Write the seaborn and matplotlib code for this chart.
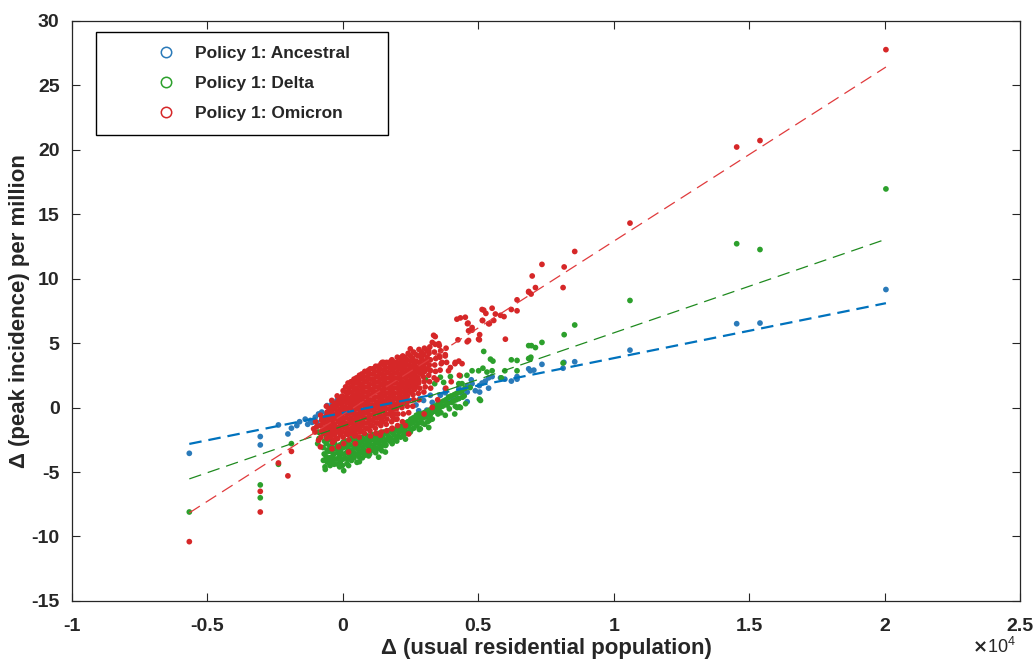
import matplotlib
matplotlib.use("Agg")
import matplotlib.pyplot as plt
import seaborn as sns
import pandas as pd
from matplotlib.lines import Line2D
from matplotlib.ticker import FuncFormatter, MultipleLocator

# Series names and colours (MATLAB-ish palette)
variants = ["Policy 1: Ancestral", "Policy 1: Delta", "Policy 1: Omicron"]
point_colors = ["#2a7ab9", "#2ca02c", "#d62728"]
line_colors = ["#0072bd", "#1f8a1f", "#e03a3c"]

# (delta usual residential population [x1e4], delta peak incidence per million)
ancestral = [
    (-0.567, -3.55), (-0.305, -2.25), (-0.305, -2.9), (-0.238, -1.35), (-0.203, -2.05), (-0.19, -1.6),
    (-0.16, -1.1), (-0.17, -1.4), (-0.139, -0.9), (-0.13, -1.3), (-0.12, -1.0), (-0.114, -1.15),
    (-0.102, -0.75), (-0.096, -1.15), (-0.09, -0.5), (-0.078, -0.35), (-0.078, -0.9), (-0.071, -0.9),
    (-0.06, -0.5), (-0.058, 0.15), (-0.05, -0.2), (-0.04, 0.3), (-0.022, 0.55), (-0.01, 0.65),
    (0.0, -0.3), (0.03, 0.1), (0.06, -0.1), (0.09, 0.2), (0.12, 0.1), (0.15, 0.4), (0.18, 0.3),
    (0.21, 0.6), (0.24, 0.5), (0.27, 0.2), (0.169, -2.3), (0.243, 1.45), (0.28, -0.25), (0.298, 0.55),
    (0.31, -0.2), (0.323, 0.95), (0.33, 0.4), (0.347, 0.0), (0.36, 0.95), (0.378, 1.15), (0.378, 1.45),
    (0.39, 0.5), (0.403, 0.8), (0.415, 1.0), (0.428, 0.7), (0.428, 1.55), (0.44, 1.1), (0.459, 0.45),
    (0.459, 1.2), (0.459, 1.7), (0.477, 1.85), (0.489, 1.3), (0.504, 1.7), (0.514, 1.9), (0.526, 2.05),
    (0.538, 1.5), (0.505, 1.2), (0.474, 2.15), (0.538, 2.3), (0.551, 2.4), (0.582, 2.3), (0.598, 2.2),
    (0.622, 2.05), (0.643, 2.2), (0.643, 2.4), (0.686, 3.0), (0.692, 2.85), (0.705, 2.9), (0.735, 3.35),
    (0.816, 3.5), (0.813, 3.05), (0.856, 3.55), (1.06, 4.45), (1.454, 6.5), (1.54, 6.55), (2.005, 9.15),
]

delta = [
    (-0.567, -8.1), (-0.305, -6.0), (-0.305, -7.0), (-0.238, -4.4), (-0.19, -2.8),
    (0.813, 3.45), (0.817, 5.65), (0.856, 6.4), (1.06, 8.3), (1.454, 12.7), (1.54, 12.25), (2.005, 16.95),
    (0.735, 5.05), (0.696, 4.8), (0.711, 4.65), (0.694, 3.9), (0.686, 3.8), (0.643, 3.65), (0.622, 3.7),
    (0.643, 2.85), (0.598, 2.85), (0.52, 4.35), (0.545, 3.75), (0.554, 3.6), (0.517, 3.05), (0.532, 2.75),
    (0.551, 2.85), (0.477, 2.85), (0.585, 2.3), (0.47, 1.55), (0.504, 0.65), (0.508, 0.55), (0.501, 2.85),
    (0.458, 2.5), (0.434, 2.45), (0.44, 1.85), (0.36, 2.35), (0.305, 2.2), (0.339, 1.85), (0.249, 1.85),
    (0.231, 0.3), (0.39, 0.8), (0.422, 0.0), (0.43, 0.05), (0.692, 3.75), (0.686, 4.8), (0.397, 2.4),
    (0.428, 1.85), (0.372, 1.95), (0.261, 2.2), (0.243, 1.95), (0.413, -0.5), (0.378, -0.6), (0.351, -0.5),
    (0.434, 0.0), (0.415, 0.1), (0.33, -0.9), (0.292, -1.2), (0.286, -1.65), (0.317, -1.55), (0.249, -1.9),
    (0.224, -2.15), (0.2, -2.3), (0.157, -2.95), (0.144, -3.35), (0.132, -3.85), (0.157, -3.45),
    (-0.091, -1.9), (-0.088, -2.4), (-0.093, -2.8),
    (-0.071, -2.0), (-0.068, -2.6), (-0.073, -3.1), (-0.069, -3.6), (-0.072, -4.1), (-0.066, -4.6), (-0.065, -4.8),
    (-0.051, -2.5), (-0.048, -3.0), (-0.053, -3.4), (-0.049, -3.9), (-0.052, -4.3), (-0.047, -4.5),
    (-0.031, -2.7), (-0.028, -3.2), (-0.033, -3.6), (-0.029, -4.0), (-0.032, -4.4),
    (-0.011, -2.9), (-0.008, -3.3), (-0.013, -3.8), (-0.009, -4.2), (-0.012, -4.6),
    (0.011, -2.6), (0.008, -3.0), (0.013, -3.5), (0.009, -3.9), (0.015, -4.35),
    (0.031, -2.4), (0.028, -2.9), (0.033, -3.3), (0.029, -3.7), (0.032, -4.1),
    (0.051, -2.4), (0.048, -2.8), (0.053, -3.2), (0.049, -3.6), (0.052, -4.25),
    (0.071, -2.3), (0.068, -2.7), (0.073, -3.1), (0.069, -3.5), (0.072, -3.9),
    (0.091, -2.2), (0.088, -2.6), (0.093, -3.0), (0.089, -3.4), (0.095, -3.75),
    (0.111, -2.1), (0.108, -2.5), (0.113, -2.9), (0.109, -3.3),
    (0.131, -2.0), (0.128, -2.4), (0.133, -2.8), (0.129, -3.2), (0.138, -3.2),
    (0.151, -1.9), (0.148, -2.3), (0.153, -2.7), (0.171, -1.8), (0.168, -2.2), (0.173, -2.6),
    (0.191, -1.7), (0.188, -2.1), (0.193, -2.5), (0.211, -1.5), (0.208, -1.9), (0.213, -2.3),
    (0.231, -1.2), (0.228, -1.6), (0.233, -2.0), (0.231, -2.45), (0.251, -0.9), (0.248, -1.3), (0.253, -1.7),
    (0.271, -0.6), (0.268, -1.0), (0.273, -1.4), (0.282, -1.7), (0.291, -0.5), (0.288, -0.9),
    (0.311, -0.3), (0.308, -0.7), (0.313, -1.1), (0.331, 0.0), (0.328, -0.4), (0.351, 0.3), (0.348, -0.2),
    (0.371, 0.5), (0.368, 0.1), (0.391, 0.8), (0.388, 0.3), (0.393, -0.1), (0.411, 1.0), (0.408, 0.5),
    (0.431, 1.2), (0.428, 0.7), (0.451, 1.5), (0.448, 0.9), (0.453, 0.3),
]

# the densest part of the Delta cloud, read between the points above
delta_dense = [
    (-0.06, -2.3), (-0.061, -2.8), (-0.058, -3.3), (-0.062, -3.8), (-0.059, -4.2),
    (-0.04, -2.9), (-0.042, -3.4), (-0.039, -3.8), (-0.041, -4.2),
    (-0.02, -3.0), (-0.019, -3.5), (-0.022, -4.0), (-0.018, -4.4),
    (0.0, -2.7), (0.002, -3.1), (-0.001, -3.6), (0.001, -4.0), (-0.002, -4.5), (0.003, -4.9),
    (0.02, -2.8), (0.019, -3.2), (0.022, -3.6), (0.018, -4.0), (0.021, -4.5),
    (0.04, -2.6), (0.042, -3.1), (0.039, -3.5), (0.041, -3.9),
    (0.06, -2.6), (0.058, -3.0), (0.062, -3.4), (0.059, -3.8), (0.061, -4.2),
    (0.08, -2.5), (0.082, -2.9), (0.079, -3.3), (0.081, -3.7),
    (0.1, -2.4), (0.098, -2.8), (0.102, -3.2), (0.099, -3.6),
    (0.12, -2.3), (0.122, -2.7), (0.119, -3.1), (0.121, -3.5),
    (0.14, -2.2), (0.138, -2.6), (0.142, -3.0), (0.16, -2.0), (0.162, -2.5), (0.159, -2.9),
    (0.18, -1.9), (0.178, -2.4), (0.182, -2.8), (0.2, -1.8), (0.202, -2.2), (0.199, -2.6),
    (0.22, -1.4), (0.218, -1.8), (0.222, -2.2), (0.24, -1.1), (0.242, -1.5), (0.239, -1.9),
    (0.26, -0.8), (0.258, -1.2), (0.262, -1.6), (0.28, -0.5), (0.282, -0.8), (0.279, -1.2),
    (0.3, -0.4), (0.298, -0.8), (0.302, -1.3), (0.32, -0.2), (0.322, -0.6), (0.319, -1.0),
    (0.34, 0.1), (0.342, -0.3), (0.36, 0.4), (0.358, 0.0), (0.362, -0.4),
    (0.38, 0.6), (0.382, 0.2), (0.4, 0.9), (0.402, 0.4), (0.42, 1.1), (0.418, 0.6), (0.44, 1.3), (0.442, 0.8),
]

omicron = [
    (-0.567, -10.4), (-0.305, -6.5), (-0.305, -8.1), (-0.238, -4.3), (-0.203, -5.3), (-0.19, -3.4),
    (0.813, 9.3), (0.817, 10.9), (0.856, 12.1), (1.06, 14.3), (1.454, 20.2), (1.54, 20.7), (2.005, 27.75),
    (0.735, 11.1), (0.699, 10.2), (0.711, 9.3), (0.686, 9.0), (0.695, 8.8), (0.643, 8.35), (0.643, 7.5),
    (0.622, 7.6), (0.551, 7.7), (0.514, 7.6), (0.528, 7.3), (0.538, 6.5), (0.515, 6.75), (0.595, 7.05),
    (0.582, 7.15), (0.563, 7.25), (0.421, 6.85), (0.434, 6.95), (0.452, 7.0), (0.462, 6.55), (0.477, 6.0),
    (0.464, 5.95), (0.501, 5.3), (0.505, 5.65), (0.60, 5.3), (0.425, 5.25), (0.459, 5.1), (0.341, 5.5),
    (0.33, 5.05), (0.356, 4.8), (0.354, 4.95), (0.249, 4.55), (0.378, 4.1), (0.356, 4.0), (0.397, 3.1),
    (0.428, 3.6), (0.44, 3.4), (0.414, 3.4), (0.317, 4.4), (0.293, 4.15), (0.366, 3.5), (0.415, 3.5),
    (0.15, 3.5), (0.181, 3.65), (0.206, 3.25), (0.323, 2.85), (0.39, 2.85), (0.347, 2.15), (0.28, 2.1),
    (0.477, 6.2), (0.46, 6.5), (0.541, 6.5), (0.557, 6.75), (0.516, 6.75), (0.52, 7.55), (0.686, 8.95),
    (0.464, 5.2), (0.504, 5.25), (0.046, 2.2), (0.095, 2.9), (0.145, 3.5), (0.217, 3.9), (0.335, 5.6),
    (0.181, -1.65), (0.243, -2.05), (0.231, -1.4), (0.194, -0.9), (-0.108, -1.65), (-0.09, -2.55),
    (-0.083, -3.05), (-0.04, -3.2), (-0.016, -3.05), (0.021, -3.45), (0.095, -3.35), (0.046, -2.8),
    (0.138, -2.15), (0.30, -0.5), (0.33, 0.0), (0.35, 0.6), (0.38, 1.5), (0.40, 2.0), (0.43, 2.5),
    (-0.101, -1.1), (-0.097, -1.5), (-0.103, -1.9),
    (-0.082, -0.6), (-0.078, -1.0), (-0.084, -1.4), (-0.079, -1.85), (-0.081, -2.3),
    (-0.061, 0.1), (-0.058, -0.35), (-0.063, -0.7), (-0.057, -1.1), (-0.06, -1.55), (-0.062, -1.95), (-0.059, -2.4),
    (-0.041, 0.55), (-0.038, 0.1), (-0.043, -0.3), (-0.039, -0.75), (-0.042, -1.1), (-0.037, -1.5),
    (-0.04, -1.9), (-0.044, -2.3), (-0.038, -2.7),
    (-0.021, 0.9), (-0.018, 0.5), (-0.023, 0.1), (-0.019, -0.3), (-0.022, -0.7), (-0.017, -1.1),
    (-0.02, -1.55), (-0.024, -1.9), (-0.019, -2.4),
    (0.001, 1.3), (-0.002, 0.9), (0.003, 0.45), (-0.001, 0.1), (0.002, -0.3), (-0.003, -0.7), (0.0, -1.1),
    (0.004, -1.5), (-0.002, -1.9), (0.001, -2.3), (0.003, -2.8),
    (0.019, 1.9), (0.022, 1.5), (0.018, 1.1), (0.021, 0.7), (0.023, 0.3), (0.017, -0.1), (0.02, -0.5),
    (0.024, -0.9), (0.019, -1.3), (0.021, -1.7), (0.018, -2.1), (0.022, -2.5),
    (0.041, 2.2), (0.038, 1.8), (0.043, 1.4), (0.039, 1.0), (0.042, 0.6), (0.037, 0.2), (0.04, -0.2),
    (0.044, -0.6), (0.039, -1.0), (0.041, -1.4), (0.038, -1.8), (0.043, -2.2),
    (0.061, 2.5), (0.058, 2.1), (0.063, 1.7), (0.059, 1.3), (0.062, 0.9), (0.057, 0.5), (0.06, 0.1),
    (0.064, -0.3), (0.059, -0.7), (0.061, -1.1), (0.058, -1.5), (0.063, -1.9), (0.06, -2.3),
    (0.081, 2.8), (0.078, 2.4), (0.083, 2.0), (0.079, 1.6), (0.082, 1.2), (0.077, 0.8), (0.08, 0.4),
    (0.084, 0.0), (0.079, -0.4), (0.081, -0.8), (0.078, -1.2), (0.083, -1.6), (0.08, -2.0),
    (0.101, 3.0), (0.098, 2.6), (0.103, 2.2), (0.099, 1.8), (0.102, 1.4), (0.097, 1.0), (0.1, 0.6),
    (0.104, 0.2), (0.099, -0.2), (0.101, -0.6), (0.098, -1.0), (0.103, -1.4), (0.1, -1.8), (0.102, -2.2),
    (0.121, 3.2), (0.118, 2.8), (0.123, 2.4), (0.119, 2.0), (0.122, 1.6), (0.117, 1.2), (0.12, 0.8),
    (0.124, 0.4), (0.119, 0.0), (0.121, -0.4), (0.118, -0.8), (0.123, -1.2), (0.12, -1.6), (0.122, -2.0),
    (0.141, 3.4), (0.138, 3.0), (0.143, 2.6), (0.139, 2.2), (0.142, 1.8), (0.137, 1.4), (0.14, 1.0),
    (0.144, 0.6), (0.139, 0.2), (0.141, -0.2), (0.138, -0.6), (0.143, -1.0), (0.14, -1.4), (0.142, -1.9),
    (0.161, 3.5), (0.158, 3.1), (0.163, 2.7), (0.159, 2.3), (0.162, 1.9), (0.157, 1.5), (0.16, 1.1),
    (0.164, 0.7), (0.159, 0.3), (0.161, -0.1), (0.158, -0.5), (0.163, -0.9), (0.16, -1.3), (0.162, -1.8),
    (0.181, 3.7), (0.178, 3.3), (0.183, 2.9), (0.179, 2.5), (0.182, 2.1), (0.177, 1.7), (0.18, 1.3),
    (0.184, 0.9), (0.179, 0.5), (0.181, 0.1), (0.178, -0.3), (0.183, -0.7), (0.18, -1.1), (0.182, -1.6),
    (0.201, 3.9), (0.198, 3.5), (0.203, 3.1), (0.199, 2.7), (0.202, 2.3), (0.197, 1.9), (0.2, 1.5),
    (0.204, 1.1), (0.199, 0.7), (0.201, 0.3), (0.198, -0.1), (0.203, -0.5), (0.2, -0.9), (0.202, -1.4),
    (0.221, 4.0), (0.218, 3.6), (0.223, 3.2), (0.219, 2.8), (0.222, 2.4), (0.217, 2.0), (0.22, 1.6),
    (0.224, 1.2), (0.219, 0.8), (0.221, 0.4), (0.218, 0.0), (0.223, -0.5), (0.22, -1.1),
    (0.241, 4.2), (0.238, 3.7), (0.243, 3.3), (0.239, 2.9), (0.242, 2.5), (0.237, 2.1), (0.24, 1.7),
    (0.244, 1.3), (0.239, 0.9), (0.241, 0.5), (0.238, 0.1), (0.243, -0.4),
    (0.261, 4.3), (0.258, 3.8), (0.263, 3.4), (0.259, 3.0), (0.262, 2.6), (0.257, 2.2), (0.26, 1.8),
    (0.264, 1.4), (0.259, 1.0), (0.261, 0.6), (0.258, 0.1),
    (0.281, 4.5), (0.278, 4.0), (0.283, 3.5), (0.279, 3.1), (0.282, 2.7), (0.277, 2.3), (0.28, 1.9),
    (0.284, 1.5), (0.279, 1.1), (0.281, 0.6),
    (0.301, 4.6), (0.298, 4.1), (0.303, 3.6), (0.299, 3.2), (0.302, 2.8), (0.297, 2.4), (0.3, 2.0),
    (0.304, 1.6), (0.299, 1.2),
    (0.321, 4.7), (0.318, 4.2), (0.323, 3.7), (0.319, 3.3), (0.322, 2.9), (0.317, 2.5), (0.32, 2.0), (0.324, 1.5),
    (0.341, 4.9), (0.338, 4.3), (0.343, 3.8), (0.339, 3.3), (0.342, 2.8), (0.337, 2.3),
    (0.361, 4.4), (0.358, 3.9), (0.363, 3.4), (0.359, 2.9), (0.381, 4.6), (0.378, 4.0), (0.383, 3.5),
]

# the solid core of the Omicron cloud, read between the points above
omicron_dense = [
    (-0.07, -0.8), (-0.071, -1.2), (-0.069, -1.6), (-0.072, -2.0),
    (-0.05, -0.1), (-0.052, -0.5), (-0.049, -0.9), (-0.051, -1.3), (-0.048, -1.7), (-0.05, -2.1),
    (-0.03, 0.3), (-0.031, -0.1), (-0.029, -0.5), (-0.032, -0.9), (-0.03, -1.3), (-0.028, -1.7),
    (-0.031, -2.1), (-0.03, -2.5),
    (-0.01, 0.7), (-0.011, 0.3), (-0.009, -0.1), (-0.012, -0.5), (-0.01, -0.9), (-0.008, -1.3),
    (-0.011, -1.7), (-0.01, -2.1),
    (0.01, 1.6), (0.011, 1.2), (0.009, 0.8), (0.012, 0.4), (0.01, 0.0), (0.008, -0.4), (0.011, -0.8),
    (0.01, -1.2), (0.009, -1.6), (0.012, -2.0),
    (0.03, 2.0), (0.031, 1.6), (0.029, 1.2), (0.032, 0.8), (0.03, 0.4), (0.028, 0.0), (0.031, -0.4),
    (0.03, -0.8), (0.029, -1.2), (0.032, -1.6), (0.03, -2.0),
    (0.05, 2.3), (0.051, 1.9), (0.049, 1.5), (0.052, 1.1), (0.05, 0.7), (0.048, 0.3), (0.051, -0.1),
    (0.05, -0.5), (0.049, -0.9), (0.052, -1.3), (0.05, -1.7), (0.048, -2.1),
    (0.07, 2.6), (0.071, 2.2), (0.069, 1.8), (0.072, 1.4), (0.07, 1.0), (0.068, 0.6), (0.071, 0.2),
    (0.07, -0.2), (0.069, -0.6), (0.072, -1.0), (0.07, -1.4), (0.068, -1.8),
    (0.09, 2.8), (0.091, 2.4), (0.089, 2.0), (0.092, 1.6), (0.09, 1.2), (0.088, 0.8), (0.091, 0.4),
    (0.09, 0.0), (0.089, -0.4), (0.092, -0.8), (0.09, -1.2), (0.088, -1.6),
    (0.11, 3.0), (0.111, 2.6), (0.109, 2.2), (0.112, 1.8), (0.11, 1.4), (0.108, 1.0), (0.111, 0.6),
    (0.11, 0.2), (0.109, -0.2), (0.112, -0.6), (0.11, -1.0), (0.108, -1.4),
    (0.13, 3.2), (0.131, 2.8), (0.129, 2.4), (0.132, 2.0), (0.13, 1.6), (0.128, 1.2), (0.131, 0.8),
    (0.13, 0.4), (0.129, 0.0), (0.132, -0.4), (0.13, -0.8), (0.128, -1.2),
    (0.15, 3.3), (0.151, 2.9), (0.149, 2.5), (0.152, 2.1), (0.15, 1.7), (0.148, 1.3), (0.151, 0.9),
    (0.15, 0.5), (0.149, 0.1), (0.152, -0.3), (0.15, -0.7), (0.148, -1.1),
    (0.17, 3.5), (0.171, 3.1), (0.169, 2.7), (0.172, 2.3), (0.17, 1.9), (0.168, 1.5), (0.171, 1.1),
    (0.17, 0.7), (0.169, 0.3), (0.172, -0.1), (0.17, -0.5),
    (0.19, 3.5), (0.191, 3.1), (0.189, 2.7), (0.192, 2.3), (0.19, 1.9), (0.188, 1.5), (0.191, 1.1),
    (0.19, 0.7), (0.189, 0.3), (0.192, -0.1), (0.19, -0.5),
    (0.21, 3.8), (0.211, 3.4), (0.209, 3.0), (0.212, 2.6), (0.21, 2.2), (0.208, 1.8), (0.211, 1.4),
    (0.21, 1.0), (0.209, 0.6), (0.212, 0.2),
    (0.23, 3.9), (0.231, 3.5), (0.229, 3.1), (0.232, 2.7), (0.23, 2.3), (0.228, 1.9), (0.231, 1.5),
    (0.23, 1.1), (0.229, 0.7),
    (0.25, 4.0), (0.251, 3.6), (0.249, 3.2), (0.252, 2.8), (0.25, 2.4), (0.248, 2.0), (0.251, 1.6), (0.25, 1.2),
    (0.27, 4.1), (0.271, 3.6), (0.269, 3.2), (0.272, 2.8), (0.27, 2.4), (0.268, 2.0), (0.271, 1.6),
    (0.29, 4.3), (0.291, 3.8), (0.289, 3.4), (0.292, 3.0), (0.29, 2.6),
    (0.31, 4.4), (0.311, 3.9), (0.309, 3.5), (0.312, 3.0),
]

# dashed least-squares lines: y = slope * x + intercept
fit_slope = [4.243, 7.225, 13.44]
fit_intercept = [-0.416, -1.437, -0.546]

sns.set_theme(style="ticks")
plt.rcParams["font.family"] = ["Liberation Sans", "DejaVu Sans"]
plt.rcParams["font.weight"] = "bold"
plt.rcParams["axes.unicode_minus"] = False
plt.rcParams["lines.scale_dashes"] = False

series_points = [ancestral, delta + delta_dense, omicron + omicron_dense]
frames = []
for name, pts in zip(variants, series_points):
    part = pd.DataFrame(pts, columns=["dpop", "dpeak"])
    part["variant"] = name
    frames.append(part)
df = pd.concat(frames, ignore_index=True)

fig = plt.figure(figsize=(10.35, 6.61), dpi=100)
ax = fig.add_axes([0.0696, 0.0908, 0.9159, 0.878])

sns.scatterplot(
    data=df, x="dpop", y="dpeak", hue="variant", hue_order=variants,
    palette=dict(zip(variants, point_colors)), s=17, linewidth=0,
    legend=False, ax=ax, zorder=2,
)

# fitted trend lines
for i, name in enumerate(variants):
    sub = df[df["variant"] == name]
    xs = [sub["dpop"].min(), sub["dpop"].max()]
    ys = [fit_slope[i] * v + fit_intercept[i] for v in xs]
    lw = 1.6 if i == 0 else 0.9
    ax.plot(xs, ys, color=line_colors[i], lw=lw, ls=(0, (9, 5)), zorder=3)

ax.set_xlim(-1, 2.5)
ax.set_ylim(-15, 30)
ax.xaxis.set_major_locator(MultipleLocator(0.5))
ax.yaxis.set_major_locator(MultipleLocator(5))
ax.xaxis.set_major_formatter(FuncFormatter(lambda v, p: f"{v:g}"))
ax.yaxis.set_major_formatter(FuncFormatter(lambda v, p: f"{v:g}"))
ax.tick_params(direction="in", length=6, width=0.8, top=True, right=True,
               labelsize=14, color="#262626")
ax.tick_params(axis="x", pad=12.5)
ax.tick_params(axis="y", pad=9)
for sp in ax.spines.values():
    sp.set_color("#262626")
    sp.set_linewidth(0.9)

ax.set_xlabel("\u0394 (usual residential population)", fontsize=16, fontweight="bold", labelpad=2)
ax.set_ylabel("\u0394 (peak incidence) per million", fontsize=16, fontweight="bold", labelpad=1)

fig.text(0.9395, 0.022, r"$\times\mathregular{10^{4}}$", fontsize=13, fontweight="normal",
         ha="left", va="center")

handles = [
    Line2D([], [], marker="o", ls="none", mfc="none", mec=c, ms=7.5, mew=1.1)
    for c in point_colors
]
leg = ax.legend(
    handles, variants, loc="upper left", bbox_to_anchor=(0.0253, 0.980, 0.308, 0.0),
    mode="expand", prop={"size": 12.5, "weight": "bold"}, frameon=True, fancybox=False,
    framealpha=1, edgecolor="black", borderpad=0.81, labelspacing=0.84,
    handlelength=6.44, handletextpad=-1.55, borderaxespad=0,
)
leg.get_frame().set_linewidth(1.0)

fig.savefig("out.png", dpi=100)
